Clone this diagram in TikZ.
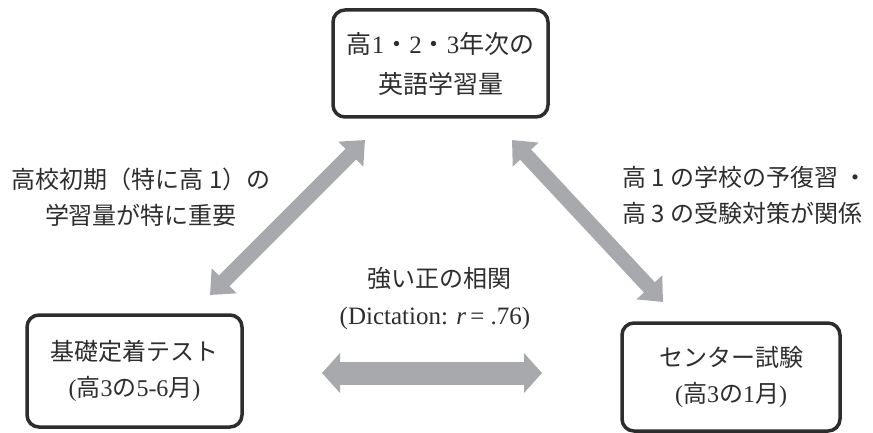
\documentclass[tikz,border=0pt]{standalone}
\usepackage{fontspec}
\setmainfont{Liberation Serif}
\newfontfamily\jp{Noto Sans CJK JP}
\usetikzlibrary{arrows.meta}
\definecolor{ink}{RGB}{45,45,45}
\definecolor{arrowgray}{RGB}{168,169,173}
\newcommand\J[1]{{\jp #1}}
\begin{document}
\begin{tikzpicture}[x=1pt,y=-1pt,
  box/.style={draw=ink, line width=3.5pt, rounded corners=12pt, align=center,
    inner sep=0pt, text=ink},
  lab/.style={text=ink, inner sep=0pt, font=\jp\fontsize{24}{36}\selectfont},
  diag/.style={draw=arrowgray, line width=15pt,
    {Triangle[width=34pt,length=20pt]}-{Triangle[width=34pt,length=20pt]}},
  horiz/.style={draw=arrowgray, line width=23pt,
    {Triangle[width=39pt,length=18pt]}-{Triangle[width=39pt,length=18pt]}}]
\useasboundingbox (0,0) rectangle (873,433);

% boxes
\node[box, minimum width=215pt, minimum height=107pt,
  font=\fontsize{25}{40}\selectfont] (top) at (440.5,63.5)
  {\J{高}1\J{・}2\J{・}3\J{年次の}\\\J{英語学習量}};
\node[box, minimum width=215pt, minimum height=112pt,
  font=\fontsize{24}{36}\selectfont] (kiso) at (134.5,371)
  {\J{基礎定着テスト}\\(\J{高}3\J{の}5-6\J{月})};
\node[box, minimum width=218pt, minimum height=108pt,
  font=\fontsize{24}{36}\selectfont] (center) at (731,377)
  {\J{センター試験}\\(\J{高}3\J{の}1\J{月})};

% labels
\node[lab, align=center] (lnote) at (141,197.5)
  {高校初期（特に高 1）の\\学習量が特に重要};
\node[lab, align=left, anchor=west] (rnote) at (622,195)
  {高 1 の学校の予復習 ・\\高 3 の受験対策が関係};
\node[lab] (corr) at (439,278) {強い正の相関};
\node[text=ink, inner sep=0pt, font=\fontsize{25}{30}\selectfont] (dict) at (435,318)
  {(Dictation: \textit{r}\,= .76)};

% arrows
\coordinate (L1) at (365,140);
\coordinate (L2) at (210,295);
\coordinate (R1) at (512,140);
\coordinate (R2) at (663,302);
\coordinate (H1) at (322,373);
\coordinate (H2) at (542,373);
\draw[diag] (L1) -- (L2);
\draw[diag] (R1) -- (R2);
\draw[horiz] (H1) -- (H2);
\end{tikzpicture}
\end{document}
